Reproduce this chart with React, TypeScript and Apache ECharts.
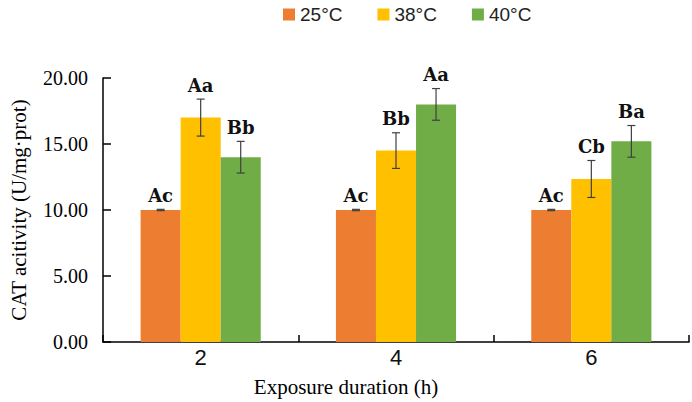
import React, { useEffect, useRef } from "react";
import * as echarts from "echarts";

const categories = ["2", "4", "6"];
const seriesNames = ["25°C", "38°C", "40°C"];
const means25 = [10.0, 10.0, 10.0];
const means38 = [17.0, 14.5, 12.35];
const means40 = [14.0, 18.0, 15.2];
const err25 = [0.05, 0.05, 0.05];
const err38 = [1.4, 1.35, 1.4];
const err40 = [1.2, 1.2, 1.2];
const letters25 = ["Ac", "Ac", "Ac"];
const letters38 = ["Aa", "Bb", "Cb"];
const letters40 = ["Bb", "Aa", "Ba"];
const yTicks = { min: 0, max: 20, interval: 5 };

const colors = ["#ED7D31", "#FFC000", "#70AD47"];
const CAT_GAP = 0.385;

export default function App() {
  const ref = useRef<HTMLDivElement>(null);
  useEffect(() => {
    if (!ref.current) return;
    const chart = echarts.init(ref.current, null, { renderer: "svg" });
    const means = [means25, means38, means40];
    const errs = [err25, err38, err40];
    const letters = [letters25, letters38, letters40];

    const barSeries = seriesNames.map((name, i) => ({
      name,
      type: "bar",
      data: means[i],
      barGap: "0%",
      barCategoryGap: CAT_GAP * 100 + "%",
      itemStyle: { color: colors[i] },
      z: 2,
    }));

    const errSeries = seriesNames.map((name, si) => ({
      type: "custom",
      name: name + "-err",
      z: 5,
      encode: { x: 0, y: 1 },
      data: categories.map((_, ci) => [ci, means[si][ci], errs[si][ci]]),
      renderItem: (params: any, api: any) => {
        const ci = api.value(0);
        const m = api.value(1);
        const e = api.value(2);
        const letter = letters[si][params.dataIndex];
        const band = api.size([1, 0])[0];
        const bw = (band * (1 - CAT_GAP)) / 3;
        const center = api.coord([ci, m]);
        const x = center[0] + (si - 1) * bw;
        const top = api.coord([ci, m + e])[1];
        const bot = api.coord([ci, m - e])[1];
        const cap = 4;
        const st = { stroke: "#404040", lineWidth: 1.2 };
        return {
          type: "group",
          children: [
            { type: "line", shape: { x1: x, y1: top, x2: x, y2: bot }, style: st },
            { type: "line", shape: { x1: x - cap, y1: top, x2: x + cap, y2: top }, style: st },
            { type: "line", shape: { x1: x - cap, y1: bot, x2: x + cap, y2: bot }, style: st },
            {
              type: "text",
              x: x,
              y: top - 5,
              style: {
                text: letter,
                fill: "#111",
                fontFamily: "DejaVu Serif",
                fontWeight: "bold",
                fontSize: 18,
                align: "center",
                verticalAlign: "bottom",
              },
            },
          ],
        };
      },
    }));

    chart.setOption({
      animation: false,
      backgroundColor: "#fff",
      legend: {
        data: seriesNames,
        left: 278,
        top: 0,
        itemWidth: 12,
        itemHeight: 12,
        itemGap: 35,
        icon: "rect",
        textStyle: { fontFamily: "Liberation Sans", fontSize: 19, color: "#222" },
      },
      grid: { left: 93, right: 3, top: 78, bottom: 54 },
      xAxis: {
        type: "category",
        data: categories,
        name: "Exposure duration (h)",
        nameLocation: "middle",
        nameGap: 34,
        nameTextStyle: {
          fontFamily: "Liberation Serif",
          fontSize: 21,
          color: "#000",
          padding: [0, 100, 0, 0],
        },
        axisLine: { lineStyle: { color: "#000", width: 1.5 } },
        axisTick: { show: true, inside: true, length: 7, lineStyle: { color: "#000", width: 1.5 } },
        axisLabel: { fontFamily: "Liberation Sans", fontSize: 22, color: "#111", margin: 4 },
      },
      yAxis: {
        type: "value",
        min: yTicks.min,
        max: yTicks.max,
        interval: yTicks.interval,
        name: "CAT acitivity (U/mg·prot)",
        nameLocation: "middle",
        nameGap: 74,
        nameTextStyle: { fontFamily: "Liberation Serif", fontSize: 21, color: "#000" },
        axisLine: { show: true, lineStyle: { color: "#000", width: 1.5 } },
        axisTick: { show: true, inside: true, length: 8, lineStyle: { color: "#000", width: 1.5 } },
        splitLine: { show: false },
        axisLabel: {
          fontFamily: "Liberation Serif",
          fontSize: 20,
          color: "#000",
          margin: 15,
          formatter: (v: number) => v.toFixed(2),
        },
      },
      series: [...barSeries, ...errSeries],
    });
    return () => chart.dispose();
  }, []);
  return (
    <div
      ref={ref}
      style={{ position: "fixed", left: 0, top: 0, width: 692, height: 402 }}
    />
  );
}
